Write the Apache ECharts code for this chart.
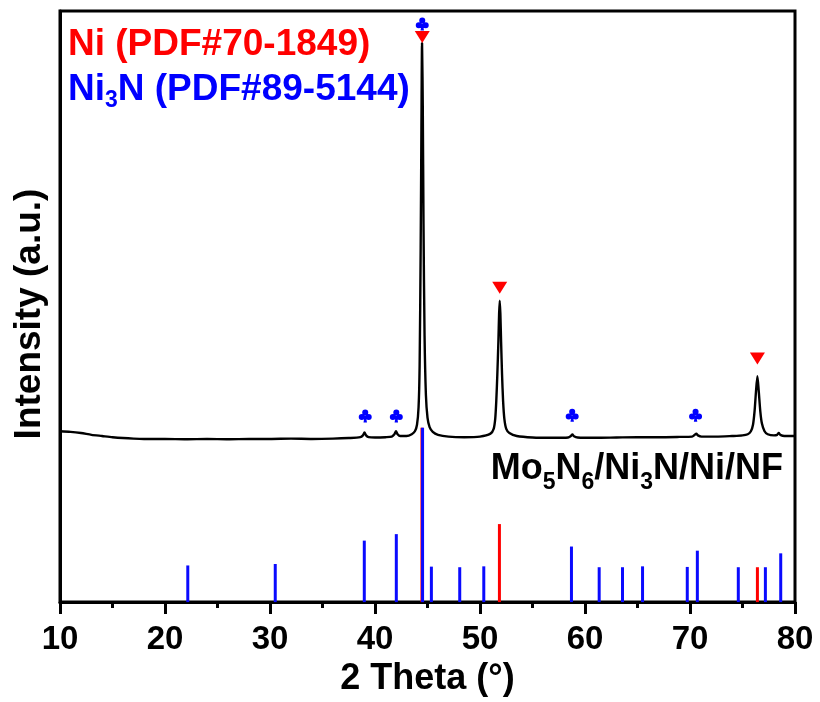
<!DOCTYPE html>
<html>
<head>
<meta charset="utf-8">
<script src="https://cdn.jsdelivr.net/npm/echarts@6.0.0/dist/echarts.min.js"></script>
<style>
  html, body { margin: 0; padding: 0; background: #fff; }
  #chart { width: 820px; height: 702px; }
</style>
</head>
<body>
<div id="chart"></div>
<script>
// measured XRD pattern (2θ in degrees, intensity in arbitrary units)
const xrdTheta = [10, 11, 12, 13, 14, 15, 16, 17, 18, 20, 22, 24, 26, 28, 30, 32, 34, 36, 37.5,
  38.6, 38.85, 39.0, 39.15, 39.4, 40, 41, 41.6, 41.85, 42.0, 42.15, 42.4, 43.0, 43.5, 43.8,
  44.0, 44.15, 44.25, 44.35, 44.42, 44.48, 44.55, 44.62, 44.72, 44.85, 45.0, 45.2, 45.5, 46, 47,
  48.5, 50, 51.0, 51.3, 51.45, 51.55, 51.65, 51.75, 51.82, 51.88, 51.94, 52.01, 52.1, 52.2, 52.32,
  52.5, 52.8, 53.5, 55, 57, 58.4, 58.65, 58.8, 58.95, 59.3, 61, 63, 65, 67, 69, 70.2, 70.45,
  70.6, 70.75, 71.1, 72.5, 74, 75, 75.5, 75.8, 76.0, 76.15, 76.28, 76.42, 76.55, 76.7, 76.85,
  77.1, 77.4, 78.0, 78.3, 78.45, 78.6, 79, 80]
const xrdIntensity = [28.9, 28.8, 28.6, 28.3, 28.1, 27.9, 27.75, 27.65, 27.6, 27.6, 27.55, 27.6, 27.55, 27.6, 27.6, 27.65, 27.6, 27.65, 27.75,
  27.9, 28.2, 28.7, 28.2, 27.9, 27.85, 27.9, 28.0, 28.4, 28.9, 28.4, 28.1, 28.1, 28.4, 28.9,
  30.0, 33, 40, 60, 80, 94.6, 84, 64, 45, 35, 31.2, 29.6, 28.8, 28.3, 28.0,
  27.9, 28.0, 28.5, 29.3, 31, 34, 38.5, 44, 48.8, 51.0, 48.8, 44, 38.5, 34, 31,
  29.3, 28.6, 28.1, 27.85, 27.8, 27.85, 28.1, 28.35, 28.05, 27.85, 27.8, 27.85, 27.9, 27.9, 27.95, 28.0, 28.3,
  28.5, 28.2, 28.0, 28.0, 28.1, 28.2, 28.4, 28.9, 30.0, 32.3, 35.5, 38.2, 35.6, 32.2, 30.2,
  28.9, 28.4, 28.2, 28.3, 28.6, 28.3, 28.1, 28.1]

// reference lines
const niTheta = [44.47, 51.85, 76.42]
const niHeight = [29.5, 13.2, 5.9]
const ni3nTheta = [22.17, 30.5, 38.98, 42.03, 44.53, 45.37, 48.07, 50.36, 58.71, 61.35, 63.57,
  65.48, 69.74, 70.7, 74.6, 77.18, 78.64]
const ni3nHeight = [6.2, 6.45, 10.4, 11.5, 29.5, 6.0, 5.9, 6.05, 9.4, 5.9, 5.9,
  6.05, 5.95, 8.7, 5.9, 5.9, 8.25]

// peak markers
const niMarkTheta = [44.5, 51.88, 76.42]
const niMarkY = [95.6, 53.2, 41.2]
const ni3nMarkTheta = [39.07, 42.03, 44.5, 58.78, 70.53]
const ni3nMarkY = [31.5, 31.5, 97.8, 31.6, 31.6]

const zip = (a, b) => a.map((v, i) => [v, b[i]])

const clubPath = 'path://M50,6 A21,21 0 1,1 49.9,6 Z M26,38 A21,21 0 1,1 25.9,38 Z M74,38 A21,21 0 1,1 73.9,38 Z M46,50 L54,50 L62,96 L38,96 Z'

const FONT = 'Liberation Sans, Arial, sans-serif'

const myChart = echarts.init(document.getElementById('chart'))
const option = {
  animation: false,
  backgroundColor: '#fff',
  grid: {
    left: 60,
    right: 25,
    top: 11,
    bottom: 97,
    show: true,
    borderColor: '#000',
    borderWidth: 3
  },
  xAxis: {
    type: 'value',
    min: 10,
    max: 80,
    interval: 10,
    name: '2 Theta (°)',
    nameLocation: 'middle',
    nameGap: 55,
    nameTextStyle: {
      fontFamily: FONT,
      fontSize: 36,
      fontWeight: 'bold',
      color: '#000'
    },
    axisLine: { lineStyle: { color: '#000', width: 3 } },
    axisTick: { length: 12, lineStyle: { color: '#000', width: 3 } },
    minorTick: { show: true, splitNumber: 2, length: 6, lineStyle: { color: '#000', width: 3 } },
    axisLabel: {
      margin: 21,
      fontFamily: FONT,
      fontSize: 33,
      fontWeight: 'bold',
      color: '#000'
    },
    splitLine: { show: false }
  },
  yAxis: {
    type: 'value',
    min: 0,
    max: 100,
    axisLine: { show: true, lineStyle: { color: '#000', width: 3 } },
    axisTick: { show: false },
    axisLabel: { show: false },
    splitLine: { show: false }
  },
  graphic: [
    {
      type: 'text',
      z: 100,
      style: {
        x: 68,
        y: 67,
        align: 'left',
        verticalAlign: 'middle',
        text: '{r|Ni (PDF#70-1849)}\n{b|Ni}{bs|3}{b|N (PDF#89-5144)}',
        rich: {
          r: { fontFamily: FONT, fontSize: 37, fontWeight: 'bold', fill: '#ff0000', lineHeight: 45 },
          b: { fontFamily: FONT, fontSize: 37, fontWeight: 'bold', fill: '#0000ff', lineHeight: 45 },
          bs: { fontFamily: FONT, fontSize: 23, fontWeight: 'bold', fill: '#0000ff', lineHeight: 19, verticalAlign: 'bottom' }
        }
      }
    },
    {
      type: 'text',
      z: 100,
      style: {
        x: 783,
        y: 469,
        align: 'right',
        verticalAlign: 'middle',
        text: '{m|Mo}{s|5}{m|N}{s|6}{m|/Ni}{s|3}{m|N/Ni/NF}',
        rich: {
          m: { fontFamily: FONT, fontSize: 36, fontWeight: 'bold', fill: '#000', lineHeight: 50 },
          s: { fontFamily: FONT, fontSize: 23, fontWeight: 'bold', fill: '#000', lineHeight: 19, verticalAlign: 'bottom' }
        }
      }
    },
    {
      type: 'text',
      z: 100,
      x: 30,
      y: 314,
      rotation: Math.PI / 2,
      style: {
        text: 'Intensity (a.u.)',
        align: 'center',
        verticalAlign: 'middle',
        fontFamily: FONT,
        fontSize: 37,
        fontWeight: 'bold',
        fill: '#000'
      }
    }
  ],
  series: [
    {
      name: 'XRD',
      type: 'line',
      data: zip(xrdTheta, xrdIntensity),
      showSymbol: false,
      smooth: 0.25,
      lineStyle: { color: '#000', width: 2.4 },
      z: 3
    },
    {
      name: 'Ni',
      type: 'bar',
      data: zip(niTheta, niHeight),
      barWidth: 3,
      barGap: '-100%',
      itemStyle: { color: '#ff0000' },
      z: 2
    },
    {
      name: 'Ni3N',
      type: 'bar',
      data: zip(ni3nTheta, ni3nHeight),
      barWidth: 3,
      barGap: '-100%',
      itemStyle: { color: '#0a0aff' },
      z: 2
    },
    {
      name: 'Ni mark',
      type: 'scatter',
      data: zip(niMarkTheta, niMarkY),
      symbol: 'triangle',
      symbolRotate: 180,
      symbolSize: [15, 12],
      itemStyle: { color: '#ff0000', opacity: 1 },
      z: 4
    },
    {
      name: 'Ni3N mark',
      type: 'scatter',
      data: zip(ni3nMarkTheta, ni3nMarkY),
      symbol: clubPath,
      symbolSize: [13, 13],
      itemStyle: { color: '#0000ff', opacity: 1 },
      z: 4
    }
  ]
}

option && myChart.setOption(option)
</script>
</body>
</html>
